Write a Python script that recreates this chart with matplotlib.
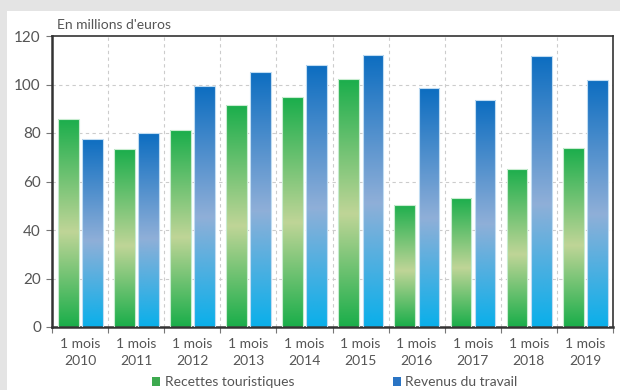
import numpy as np
import matplotlib.pyplot as plt
from matplotlib.colors import LinearSegmentedColormap
from matplotlib.patches import Rectangle

years = ["2010", "2011", "2012", "2013", "2014", "2015", "2016", "2017", "2018", "2019"]
recettes = [85.9, 73.4, 81.1, 91.4, 94.7, 102.3, 50.5, 53.1, 65.2, 73.7]
revenus = [77.7, 79.9, 99.2, 105.3, 108.0, 112.3, 98.4, 93.6, 111.6, 102.0]
labels = ["1 mois\n" + y for y in years]

plt.rcParams['font.family'] = ['Lato', 'DejaVu Sans']
txt = '#555555'

green = LinearSegmentedColormap.from_list(
    'g', [(0, '#1aae4a'), (0.45, '#bfd597'), (1, '#17ad4a')])
blue = LinearSegmentedColormap.from_list(
    'b', [(0, '#0aafea'), (0.45, '#8fafd8'), (1, '#0a6cc0')])

fig = plt.figure(figsize=(6.2, 3.9), dpi=100, facecolor='#e4e4e4')
fig.add_artist(Rectangle((7 / 620, 0), 1, 1 - 11 / 390, transform=fig.transFigure,
                         facecolor='white', edgecolor='none', zorder=0))
ax = fig.add_axes([52 / 620, 1 - 327 / 390, 561 / 620, 291 / 390])

x = np.arange(len(years))
w = 0.37
grad = np.linspace(0, 1, 256).reshape(-1, 1)


def gradient_bars(xs, vals, cmap, edge):
    bars = ax.bar(xs, vals, width=w, align='edge', color='none',
                  edgecolor=edge, linewidth=0.8, zorder=3)
    for b in bars:
        x0, y0 = b.get_x(), b.get_y()
        im = ax.imshow(grad, cmap=cmap, origin='lower', aspect='auto', zorder=2,
                       extent=[x0, x0 + b.get_width(), y0, y0 + b.get_height() + 1])
        im.set_clip_path(b)


gradient_bars(x + 0.105, recettes, green, '#c8ecd0')
gradient_bars(x + 0.535, revenus, blue, '#c0dcf2')

ax.set_xlim(0, len(years))
ax.set_ylim(0, 120)
ax.set_yticks(range(0, 121, 20))
ax.set_xticks(list(x) + [len(years)])
ax.set_xticks(x + 0.5, labels, minor=True)
for t in ax.get_xticklabels(minor=True):
    t.set_linespacing(1.45)
ax.tick_params(axis='x', which='minor', length=0, pad=8, labelsize=10, labelcolor=txt)
ax.tick_params(axis='x', which='major', length=4, color='#777777', labelbottom=False)
ax.tick_params(axis='y', length=4, color='#777777', labelsize=11, labelcolor=txt, pad=4)

for v in range(20, 120, 20):
    ax.axhline(v, color='#cccccc', lw=0.8, ls=(0, (3, 3)), zorder=1)
for v in range(1, len(years)):
    ax.axvline(v, color='#cccccc', lw=0.8, ls=(0, (3, 3)), zorder=1)

for s in ax.spines.values():
    s.set_color('#333333')
    s.set_linewidth(1.2)
ax.spines['left'].set_linewidth(1.8)
ax.spines['bottom'].set_linewidth(1.8)

fig.text(57 / 620, 1 - 25 / 390, "En millions d'euros", fontsize=10, color=txt,
         va='center', ha='left')

h1 = Rectangle((0, 0), 1, 1, facecolor='#3daa4f')
h2 = Rectangle((0, 0), 1, 1, facecolor='#2a74c4')
fig.legend([h1, h2], ["Recettes touristiques", "Revenus du travail"], ncol=2,
           loc='center', bbox_to_anchor=(0.54, 8 / 390), frameon=False,
           fontsize=10, labelcolor=txt, handlelength=0.6, handleheight=0.6,
           handletextpad=0.3, columnspacing=7.1, borderpad=0)

fig.savefig('out.png', dpi=100, facecolor=fig.get_facecolor())
